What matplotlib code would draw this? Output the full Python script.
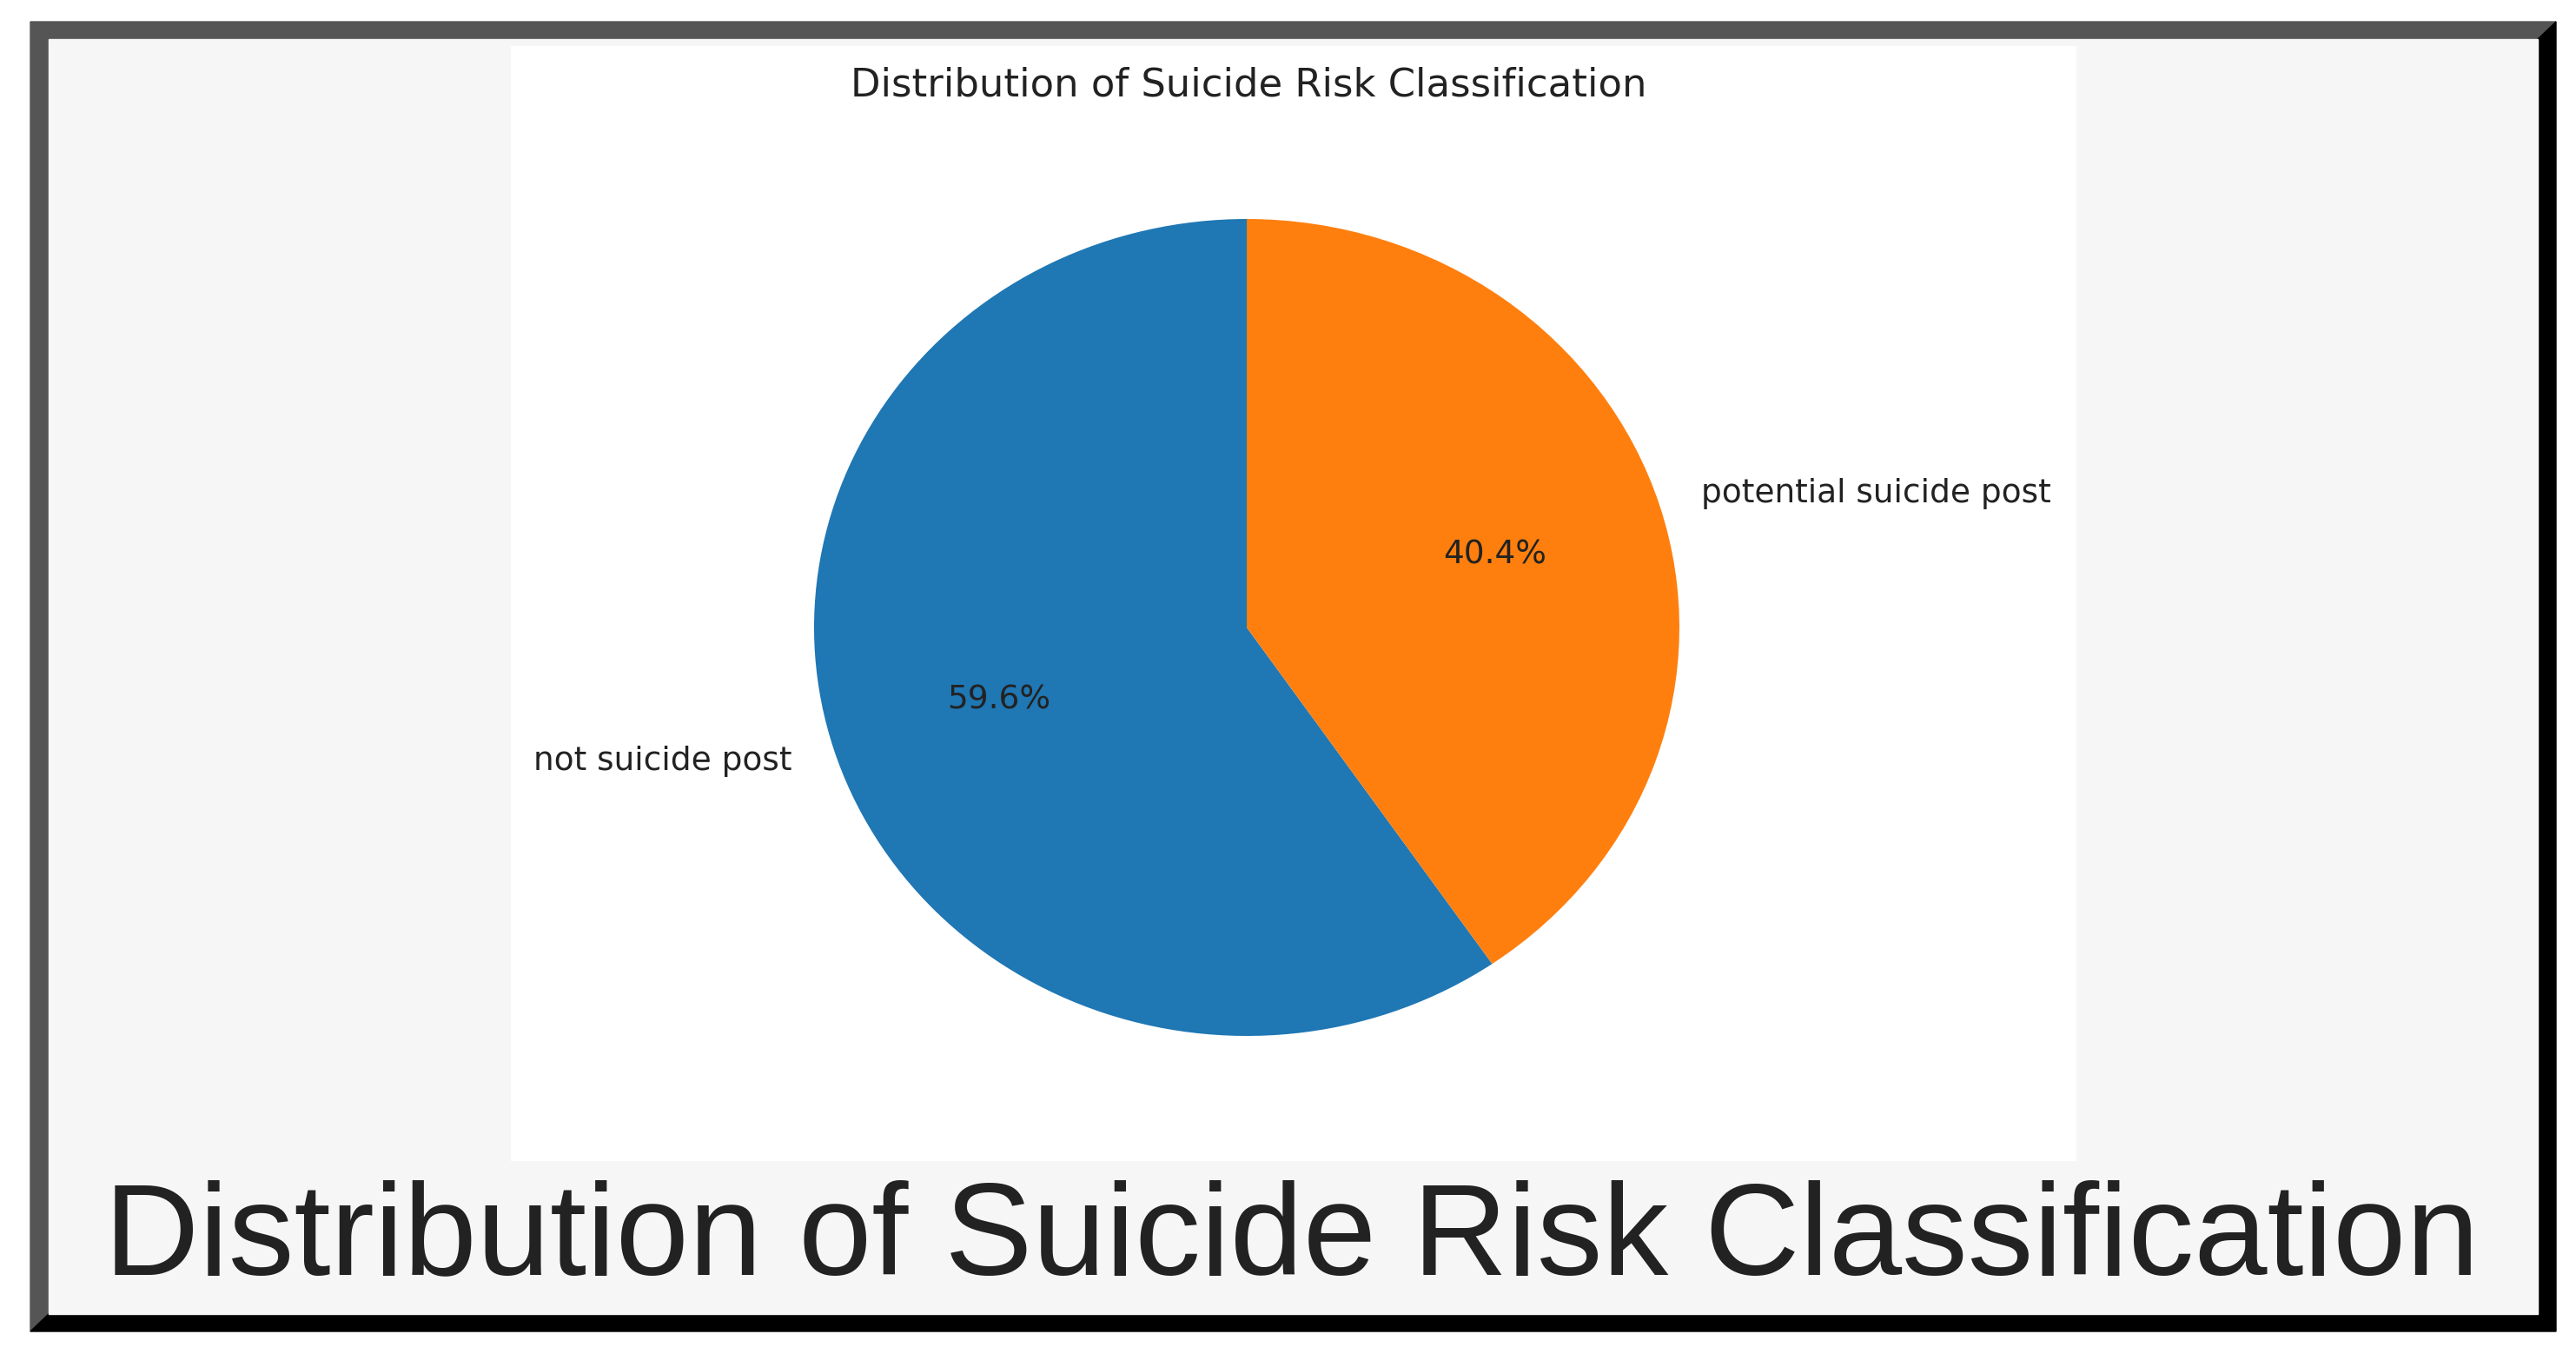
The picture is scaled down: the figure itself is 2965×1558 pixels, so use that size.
import matplotlib
matplotlib.use('Agg')
import matplotlib.pyplot as plt
from matplotlib.patches import Polygon, Rectangle

W, H = 2965, 1558

categories = ['not suicide post', 'potential suicide post']
shares = [59.6, 40.4]
colors = ['#1f77b4', '#ff7f0e']
chart_title = 'Distribution of Suicide Risk Classification'
caption = 'Distribution of Suicide Risk Classification'


def fx(px):
    return px / W


def fy(py):
    # pixel rows counted from the top
    return 1 - py / H


def pts(coords):
    return [(fx(x), fy(y)) for x, y in coords]


fig = plt.figure(figsize=(W / 100, H / 100), dpi=100, facecolor='white')

# bevelled frame: grey top/left, black bottom/right
fig.patches.append(Polygon(pts([(35, 25), (2942, 25), (2921, 45), (56, 45), (56, 1512), (35, 1532)]),
                           closed=True, transform=fig.transFigure, color='#555555', zorder=-3))
fig.patches.append(Polygon(pts([(2942, 25), (2942, 1532), (35, 1532), (56, 1512), (2921, 1512), (2921, 45)]),
                           closed=True, transform=fig.transFigure, color='#000000', zorder=-3))
fig.patches.append(Rectangle((fx(56), fy(1512)), fx(2921 - 56), (1512 - 45) / H,
                             transform=fig.transFigure, color='#f6f6f6', zorder=-2))
fig.patches.append(Rectangle((fx(588), fy(1335)), fx(2389 - 588), (1335 - 53) / H,
                             transform=fig.transFigure, color='white', zorder=-1))

# pie axes, slightly wider than tall like the reference
cx, cy, rx, ry = 1435, 722, 498, 470
ax = fig.add_axes([fx(cx - 1.25 * rx), fy(cy + 1.25 * ry), fx(2.5 * rx), 2.5 * ry / H])
ax.set_zorder(1)
ax.pie(shares, labels=categories, colors=colors, autopct='%1.1f%%', startangle=90,
       textprops={'fontsize': 27, 'family': 'DejaVu Sans', 'color': '#222222'})
ax.set_aspect('auto')
ax.set_xlim(-1.25, 1.25)
ax.set_ylim(-1.25, 1.25)
ax.patch.set_visible(False)

fig.text(fx(1437), fy(98), chart_title, ha='center', va='center',
         fontsize=32.3, family='DejaVu Sans', color='#222222', zorder=2)

fig.text(fx(1487), fy(1466), caption, ha='center', va='baseline',
         fontsize=109, family='Liberation Sans', color='#222222', zorder=2)

fig.savefig('out.png', dpi=100, facecolor='white')
